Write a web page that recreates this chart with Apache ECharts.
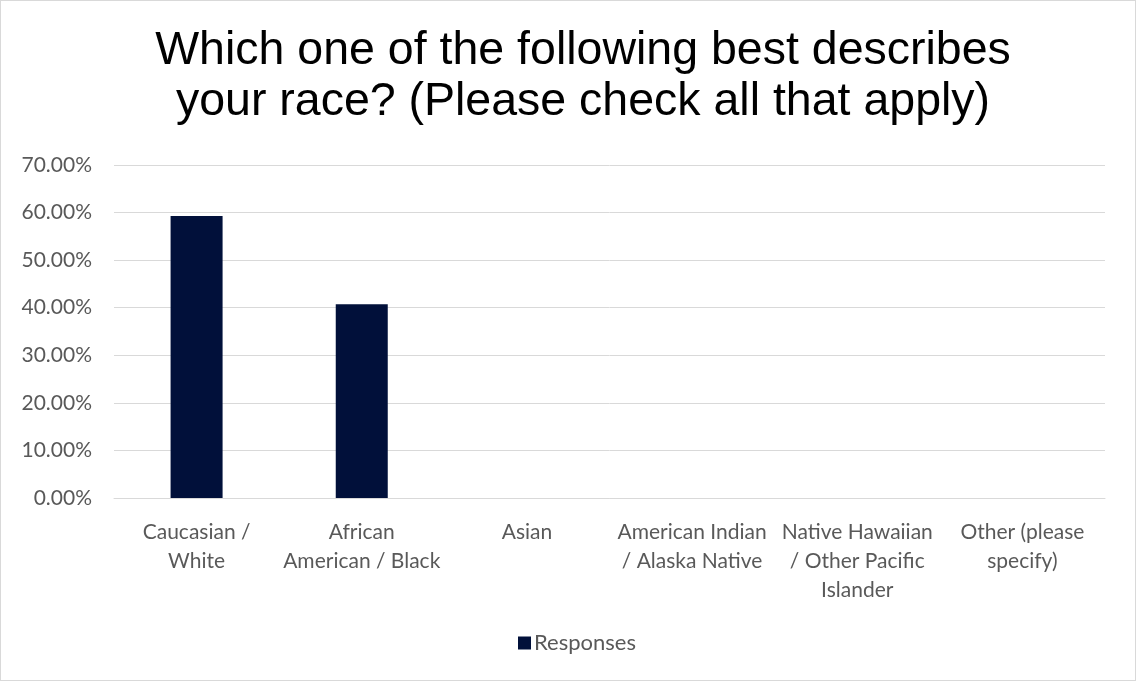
<!DOCTYPE html>
<html>
<head>
<meta charset="utf-8">
<script src="https://cdn.jsdelivr.net/npm/echarts@6/dist/echarts.min.js"></script>
<style>
  html, body { margin: 0; padding: 0; background: #fff; }
  #main { width: 1136px; height: 681px; box-sizing: border-box; border: 1px solid #d9d9d9; }
</style>
</head>
<body>
<div id="main"></div>
<script>
// categories as shown on the axis (line breaks as in the picture)
var categories = [
  "Caucasian /\nWhite",
  "African\nAmerican / Black",
  "Asian",
  "American Indian\n/ Alaska Native",
  "Native Hawaiian\n/ Other Pacific\nIslander",
  "Other (please\nspecify)"
];
var responses = [59.26, 40.74, 0, 0, 0, 0];
var titleLines = ["Which one of the following best describes", "your race? (Please check all that apply)"];

var myChart = echarts.init(document.getElementById("main"));
myChart.setOption({
  animation: false,
  color: ["#01103a"],
  title: {
    text: titleLines.join("\n"),
    left: 577,
    textAlign: "center",
    top: 20,
    textStyle: {
      fontFamily: "Liberation Sans, Arial",
      fontSize: 46.5,
      fontWeight: "normal",
      color: "#000",
      lineHeight: 51
    }
  },
  legend: {
    bottom: 21,
    left: 512,
    itemWidth: 13,
    itemHeight: 13,
    itemGap: 4,
    icon: "rect",
    textStyle: {
      fontFamily: "Lato, Noto Sans",
      fontSize: 22,
      color: "#595959",
      padding: [0, 0, 0, -2]
    },
    data: ["Responses"]
  },
  grid: {
    left: 113,
    right: 30,
    top: 164,
    bottom: 182
  },
  xAxis: {
    type: "category",
    data: categories,
    axisLine: { show: true, lineStyle: { color: "#d9d9d9", width: 1 } },
    axisTick: { show: false },
    axisLabel: {
      interval: 0,
      margin: 20,
      fontFamily: "Lato, Noto Sans",
      fontSize: 21,
      lineHeight: 29,
      color: "#595959"
    }
  },
  yAxis: {
    type: "value",
    min: 0,
    max: 70,
    interval: 10,
    axisLine: { show: false },
    axisTick: { show: false },
    splitLine: { lineStyle: { color: "#d9d9d9", width: 1 } },
    axisLabel: {
      margin: 22,
      fontFamily: "Lato, Noto Sans",
      fontSize: 21,
      color: "#595959",
      formatter: function (value) {
        return value.toFixed(2) + "%";
      }
    }
  },
  series: [
    {
      name: "Responses",
      type: "bar",
      barWidth: 52,
      data: responses
    }
  ]
});
</script>
</body>
</html>
